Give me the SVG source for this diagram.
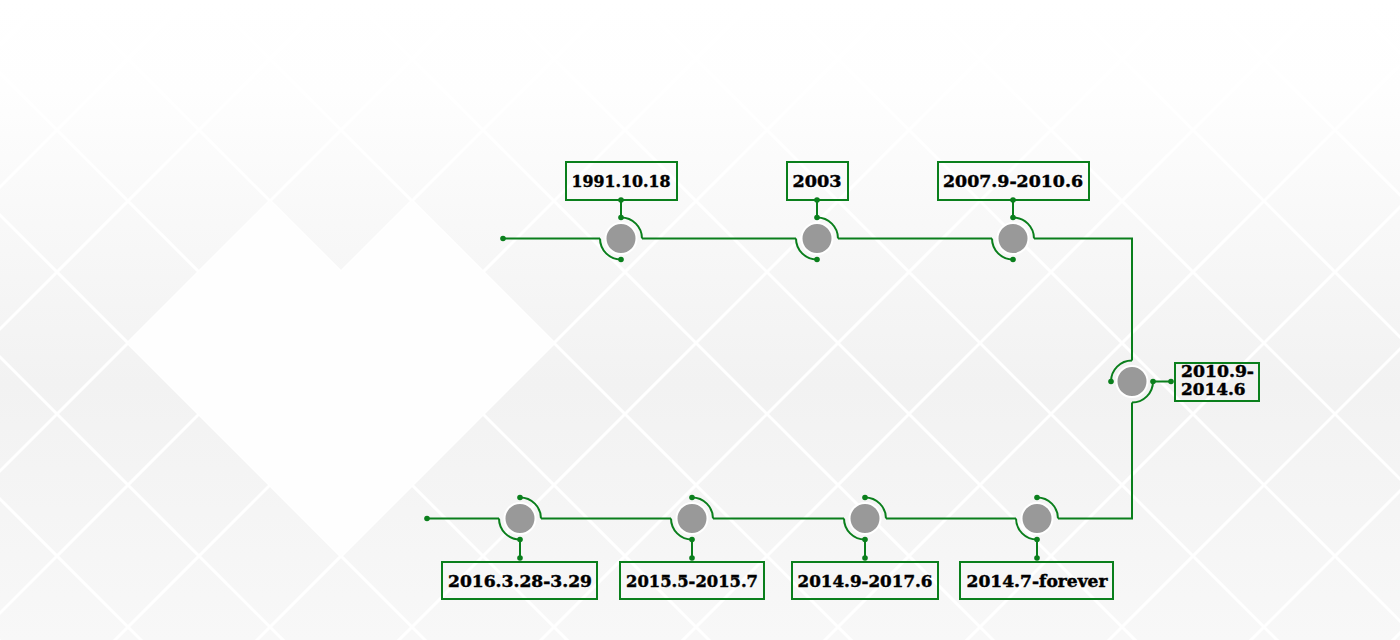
<svg xmlns="http://www.w3.org/2000/svg" width="1400" height="640" viewBox="0 0 1400 640">
<defs>
<linearGradient id="bg" x1="0" y1="0" x2="0" y2="1">
<stop offset="0" stop-color="#ffffff"/>
<stop offset="0.14" stop-color="#fefefe"/>
<stop offset="0.35" stop-color="#f8f8f8"/>
<stop offset="0.6" stop-color="#f2f2f2"/>
<stop offset="1" stop-color="#f8f8f8"/>
</linearGradient>
<style>
.grid{fill:none;stroke:#ffffff;stroke-width:3}
.wire{fill:none;stroke:#0a7f1c;stroke-width:2}
.dot{fill:#0a7f1c}
.ball{fill:#999999;stroke:#ffffff;stroke-width:2}
.box{fill:none;stroke:#0a7f1c;stroke-width:2}
.lbl{font-family:"DejaVu Serif","Liberation Serif",serif;font-weight:bold;font-size:16.5px;fill:#000000;stroke:#000000;stroke-width:0.45}
.mid{text-anchor:middle}
</style>
</defs>
<rect x="0" y="0" width="1400" height="640" fill="url(#bg)"/>
<g id="background">
<path class="grid" d="M-651 -10L9 650M-509 -10L151 650M-367 -10L293 650M-225 -10L435 650M-83 -10L577 650M59 -10L719 650M201 -10L861 650M343 -10L1003 650M485 -10L1145 650M627 -10L1287 650M769 -10L1429 650M911 -10L1571 650M1053 -10L1713 650M1195 -10L1855 650M1337 -10L1997 650M55 -10L-605 650M197 -10L-463 650M339 -10L-321 650M481 -10L-179 650M623 -10L-37 650M765 -10L105 650M907 -10L247 650M1049 -10L389 650M1191 -10L531 650M1333 -10L673 650M1475 -10L815 650M1617 -10L957 650M1759 -10L1099 650M1901 -10L1241 650M2043 -10L1383 650"/>
<polygon points="270,201 341,272 412,201 554,343 341,556 128,343" fill="#fefefe"/>
</g>
<g id="connectors">
<path class="wire" d="M503 238.5H600M642 238.5H796M838 238.5H992M1034 238.5H1132V360.5M1132 402.5V518.5H1058M1016 518.5H886M844 518.5H713M671 518.5H541M499 518.5H427"/>
<circle class="dot" cx="503" cy="238.5" r="2.8"/>
<circle class="dot" cx="427" cy="518.5" r="2.8"/>
</g>
<g id="node-1991">
<rect class="box" x="566" y="162" width="111" height="38"/>
<text class="lbl mid" x="621" y="187" textLength="99" lengthAdjust="spacingAndGlyphs">1991.10.18</text>
<path class="wire" d="M621 200V217.5M621 217.5A21 21 0 0 1 642 238.5M600 238.5A21 21 0 0 0 621 259.5"/>
<circle class="ball" cx="621" cy="238.5" r="15.5"/>
<circle class="dot" cx="621" cy="200" r="2.8"/>
<circle class="dot" cx="621" cy="217.5" r="2.8"/>
<circle class="dot" cx="621" cy="259.5" r="2.8"/>
</g>
<g id="node-2003">
<rect class="box" x="787" y="162" width="61" height="38"/>
<text class="lbl mid" x="817" y="187" textLength="49" lengthAdjust="spacingAndGlyphs">2003</text>
<path class="wire" d="M817 200V217.5M817 217.5A21 21 0 0 1 838 238.5M796 238.5A21 21 0 0 0 817 259.5"/>
<circle class="ball" cx="817" cy="238.5" r="15.5"/>
<circle class="dot" cx="817" cy="200" r="2.8"/>
<circle class="dot" cx="817" cy="217.5" r="2.8"/>
<circle class="dot" cx="817" cy="259.5" r="2.8"/>
</g>
<g id="node-2007">
<rect class="box" x="938" y="162" width="151" height="38"/>
<text class="lbl mid" x="1013" y="187" textLength="140" lengthAdjust="spacingAndGlyphs">2007.9-2010.6</text>
<path class="wire" d="M1013 200V217.5M1013 217.5A21 21 0 0 1 1034 238.5M992 238.5A21 21 0 0 0 1013 259.5"/>
<circle class="ball" cx="1013" cy="238.5" r="15.5"/>
<circle class="dot" cx="1013" cy="200" r="2.8"/>
<circle class="dot" cx="1013" cy="217.5" r="2.8"/>
<circle class="dot" cx="1013" cy="259.5" r="2.8"/>
</g>
<g id="node-2010">
<rect class="box" x="1175" y="363" width="84" height="38"/>
<text class="lbl" x="1181" y="377" textLength="73" lengthAdjust="spacingAndGlyphs">2010.9-</text>
<text class="lbl" x="1181" y="394.5" textLength="64.5" lengthAdjust="spacingAndGlyphs">2014.6</text>
<path class="wire" d="M1132 360.5A21 21 0 0 0 1111 381.5M1132 402.5A21 21 0 0 0 1153 381.5M1153 381.5H1171"/>
<circle class="ball" cx="1132" cy="381.5" r="15.5"/>
<circle class="dot" cx="1111" cy="381.5" r="2.8"/>
<circle class="dot" cx="1153" cy="381.5" r="2.8"/>
<circle class="dot" cx="1171" cy="381.5" r="2.8"/>
</g>
<g id="node-2014-7">
<rect class="box" x="960" y="562" width="153" height="37"/>
<text class="lbl mid" x="1037" y="587" textLength="141" lengthAdjust="spacingAndGlyphs">2014.7-forever</text>
<path class="wire" d="M1037 539.5V558M1037 497.5A21 21 0 0 1 1058 518.5M1016 518.5A21 21 0 0 0 1037 539.5"/>
<circle class="ball" cx="1037" cy="518.5" r="15.5"/>
<circle class="dot" cx="1037" cy="497.5" r="2.8"/>
<circle class="dot" cx="1037" cy="539.5" r="2.8"/>
<circle class="dot" cx="1037" cy="558" r="2.8"/>
</g>
<g id="node-2014-9">
<rect class="box" x="792" y="562" width="146" height="37"/>
<text class="lbl mid" x="865" y="587" textLength="135" lengthAdjust="spacingAndGlyphs">2014.9-2017.6</text>
<path class="wire" d="M865 539.5V558M865 497.5A21 21 0 0 1 886 518.5M844 518.5A21 21 0 0 0 865 539.5"/>
<circle class="ball" cx="865" cy="518.5" r="15.5"/>
<circle class="dot" cx="865" cy="497.5" r="2.8"/>
<circle class="dot" cx="865" cy="539.5" r="2.8"/>
<circle class="dot" cx="865" cy="558" r="2.8"/>
</g>
<g id="node-2015">
<rect class="box" x="620" y="562" width="144" height="37"/>
<text class="lbl mid" x="692" y="587" textLength="132" lengthAdjust="spacingAndGlyphs">2015.5-2015.7</text>
<path class="wire" d="M692 539.5V558M692 497.5A21 21 0 0 1 713 518.5M671 518.5A21 21 0 0 0 692 539.5"/>
<circle class="ball" cx="692" cy="518.5" r="15.5"/>
<circle class="dot" cx="692" cy="497.5" r="2.8"/>
<circle class="dot" cx="692" cy="539.5" r="2.8"/>
<circle class="dot" cx="692" cy="558" r="2.8"/>
</g>
<g id="node-2016">
<rect class="box" x="442" y="562" width="155" height="37"/>
<text class="lbl mid" x="520" y="587" textLength="144" lengthAdjust="spacingAndGlyphs">2016.3.28-3.29</text>
<path class="wire" d="M520 539.5V558M520 497.5A21 21 0 0 1 541 518.5M499 518.5A21 21 0 0 0 520 539.5"/>
<circle class="ball" cx="520" cy="518.5" r="15.5"/>
<circle class="dot" cx="520" cy="497.5" r="2.8"/>
<circle class="dot" cx="520" cy="539.5" r="2.8"/>
<circle class="dot" cx="520" cy="558" r="2.8"/>
</g>
</svg>
